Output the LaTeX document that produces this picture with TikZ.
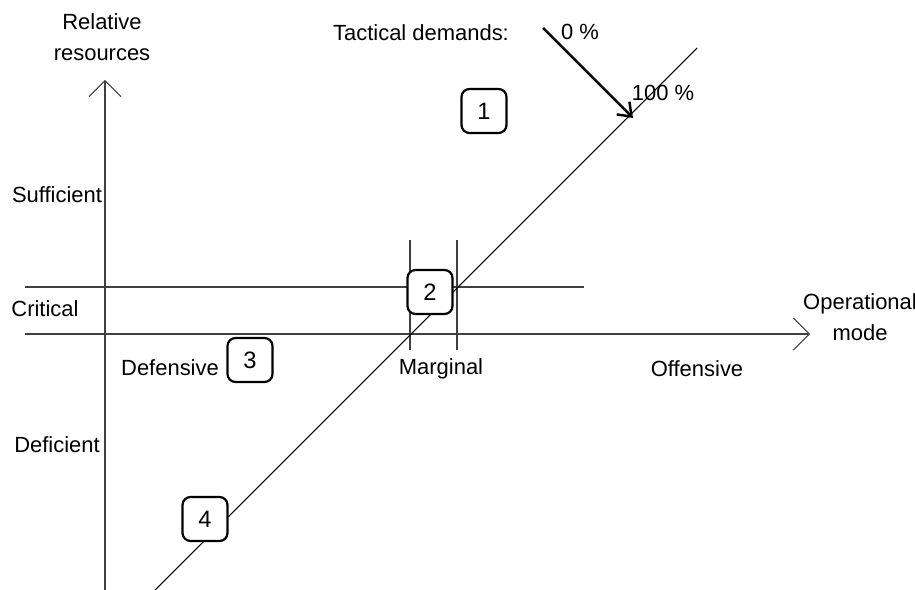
\documentclass[tikz,border=0pt]{standalone}
\usepackage{fontspec}
\setmainfont{Liberation Sans}
\usetikzlibrary{arrows.meta}
\tikzset{
    LB/.style ={inner sep=0pt, font=\fontsize{12.5}{18}\selectfont},
    LB2/.style ={LB, align=center},
    BX/.style ={rectangle, rounded corners=0.16cm, minimum width=0.9cm, minimum height=0.88cm,
                draw, line width=1.25pt, fill=white, font=\fontsize{13.5}{15}\selectfont},
    AX/.style ={draw=black!75, line width=0.6pt},
    OP/.style ={-{Straight Barb[length=3.2mm, width=6.4mm, line width=0.6pt]}}}
\begin{document}
\begin{tikzpicture}[x=0.02cm, y=-0.02cm]
        \useasboundingbox (0,0) rectangle (915,590);
        % axes and guide lines
        \coordinate (yb) at (105,590);
        \coordinate (yt) at (105,80);
        \coordinate (xl) at (25,334);
        \coordinate (xr) at (810,334);
        \coordinate (cl) at (25,287);
        \coordinate (cr) at (584,287);
        \foreach \x/\n in {410/ml, 457/mr}{
            \coordinate (\n1) at (\x,240);
            \coordinate (\n2) at (\x,350);}
        \coordinate (d1) at (155,590);
        \coordinate (d2) at (697,48);
        \draw[AX,OP] (yb) -- (yt);
        \draw[AX,OP] (xl) -- (xr);
        \draw[AX] (cl) -- (cr);
        \draw[AX] (ml1) -- (ml2);
        \draw[AX] (mr1) -- (mr2);
        \draw[line width=0.6pt] (d1) -- (d2);
        % labels
        \node[LB2] (rel) at (102,37) {Relative\\resources};
        \node[LB] (suf) at (57,195) {Sufficient};
        \node[LB] (crit) at (45,309) {Critical};
        \node[LB] (defi) at (57,445) {Deficient};
        \node[LB] (defe) at (170,368) {Defensive};
        \node[LB] (marg) at (441,369) {Marginal};
        \node[LB] (offe) at (697,369) {Offensive};
        \node[LB2] (opm) at (860,317) {Operational\\mode};
        \node[LB] (tac) at (421,33) {Tactical demands:};
        \node[LB] (zero) at (580,32) {0 \%};
        \node[LB] (full) at (663,93) {100 \%};
        % numbered boxes
        \node[BX] (b1) at (484,111) {1};
        \node[BX] (b2) at (430,292) {2};
        \node[BX] (b3) at (250,360) {3};
        \node[BX] (b4) at (205,519) {4};
        % tactical demand arrow
        \coordinate (a1) at (543,28);
        \coordinate (a2) at (633,118);
        \draw[line width=1.4pt, -{Straight Barb[length=2.4mm, width=3.6mm]}] (a1) -- (a2);
    \end{tikzpicture}
\end{document}
